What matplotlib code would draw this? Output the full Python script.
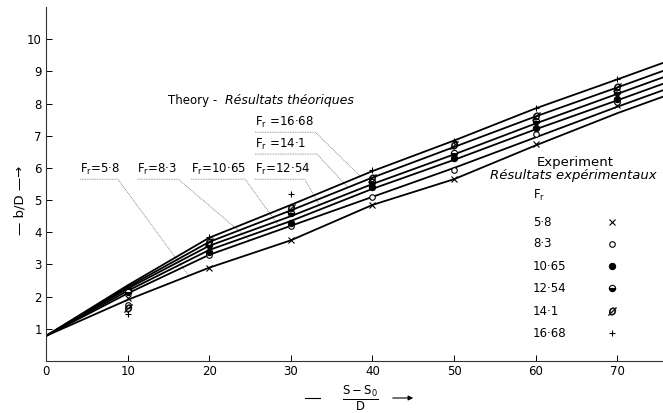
import numpy as np
import matplotlib
matplotlib.use("Agg")
import matplotlib.pyplot as plt
from matplotlib.lines import Line2D

plt.rcParams["font.family"] = ["DejaVu Sans"]

# ───────── data ─────────
froude = ["5·8", "8·3", "10·65", "12·54", "14·1", "16·68"]

# theory curves (b/D against (S-S0)/D)
x_curve = [0, 10, 20, 30, 40, 50, 60, 70, 76]
theory_5_8 = [0.78, 1.90, 2.90, 3.75, 4.85, 5.65, 6.70, 7.70, 8.25]
theory_8_3 = [0.78, 2.10, 3.30, 4.20, 5.10, 6.00, 6.95, 7.90, 8.45]
theory_10_65 = [0.78, 2.18, 3.45, 4.35, 5.35, 6.25, 7.20, 8.10, 8.65]
theory_12_54 = [0.78, 2.25, 3.58, 4.50, 5.50, 6.42, 7.38, 8.30, 8.85]
theory_14_1 = [0.78, 2.30, 3.70, 4.68, 5.70, 6.65, 7.60, 8.50, 9.05]
theory_16_68 = [0.78, 2.35, 3.83, 4.85, 5.90, 6.85, 7.85, 8.75, 9.30]

# experimental points
x_exp = [10, 20, 30, 40, 50, 60, 70]
exp_5_8 = [1.95, 2.90, 3.75, 4.85, 5.65, 6.75, 7.95]
exp_8_3 = [1.75, 3.30, 4.20, 5.10, 5.95, 7.05, 8.05]
exp_10_65 = [2.25, 3.40, 4.30, 5.40, 6.30, 7.25, 8.15]
exp_12_54 = [2.15, 3.60, 4.60, 5.55, 6.45, 7.45, 8.35]
exp_14_1 = [1.65, 3.70, 4.75, 5.70, 6.70, 7.60, 8.50]
exp_16_68 = [1.45, 3.85, 5.20, 5.95, 6.85, 7.85, 8.75]

theory = [theory_5_8, theory_8_3, theory_10_65, theory_12_54, theory_14_1, theory_16_68]
experiment = [exp_5_8, exp_8_3, exp_10_65, exp_12_54, exp_14_1, exp_16_68]

# marker style per Froude number
markers = [
    dict(marker="x", ms=4, mew=0.8, color="black", mfc="black"),
    dict(marker="o", ms=4, mew=0.8, color="black", mfc="white"),
    dict(marker="o", ms=4.5, mew=0.8, color="black", mfc="black"),
    dict(marker="o", ms=4.5, mew=0.8, color="black", mfc="black", fillstyle="bottom", mfcalt="white"),
    dict(marker="$ø$", ms=6, mew=0.3, color="black"),
    dict(marker="+", ms=5, mew=0.8, color="black"),
]

# label placement for the theory curves: text pos, underline end, where the leader hits the curve
label_pos = [(4.2, 5.95), (11.2, 5.95), (17.8, 5.95), (25.6, 5.95), (25.6, 6.73), (25.6, 7.41)]
underline_end = [8.8, 16.2, 24.4, 31.7, 33.2, 33.0]
leader_x = [17.5, 25.0, 28.5, 33.5, 37.0, 38.5]

FS = 8.5

fig = plt.figure(figsize=(6.63, 4.13), dpi=100)
ax = fig.add_axes([46 / 663, 52 / 413, 617 / 663, 354 / 413])

# theory curves
for ys in theory:
    ax.plot(x_curve, ys, color="black", lw=1.3, solid_capstyle="round", zorder=2)

# experimental points
for ys, mk in zip(experiment, markers):
    ax.plot(x_exp, ys, ls="none", zorder=3, **mk)

# curve labels with dotted leader lines
for i, (name, (tx, ty), ux, lx, ys) in enumerate(zip(froude, label_pos, underline_end, leader_x, theory)):
    sep = " =" if i >= 4 else "="
    ax.text(tx, ty, "F$_\\mathregular{r}$" + sep + name, fontsize=FS, ha="left", va="center")
    uy = ty - 0.3
    ly = np.interp(lx, x_curve, ys)
    ax.plot([tx, ux, lx], [uy, uy, ly], color="#777777", lw=0.6, ls=(0, (1, 1)), zorder=1)

ax.text(15.0, 8.1, "Theory - ", fontsize=FS, ha="left", va="center")
ax.text(21.9, 8.1, "Résultats théoriques", fontsize=FS + 0.5, style="italic", ha="left", va="center")

# experiment key
ax.text(0.857, 0.562, "Experiment", transform=ax.transAxes, fontsize=9.5, ha="center", va="center")
ax.text(0.855, 0.523, "Résultats expérimentaux", transform=ax.transAxes, fontsize=9.5,
        style="italic", ha="center", va="center")
ax.text(0.789, 0.469, "F$_\\mathregular{r}$", transform=ax.transAxes, fontsize=FS, ha="left", va="center")
row_y = [0.392, 0.331, 0.268, 0.206, 0.141, 0.079]
for name, yy, mk in zip(froude, row_y, markers):
    ax.text(0.789, yy, name, transform=ax.transAxes, fontsize=FS, ha="left", va="center")
    ax.plot([0.917], [yy], transform=ax.transAxes, ls="none", clip_on=False, **mk)

# axes styling
ax.set_xlim(0, 75.6)
ax.set_ylim(0, 11)
ax.set_xticks(range(0, 80, 10))
ax.set_yticks(range(1, 11))
ax.tick_params(direction="in", length=4, width=0.7, labelsize=8.5, pad=3)
ax.spines["top"].set_visible(False)
ax.spines["right"].set_visible(False)
for s in ("left", "bottom"):
    ax.spines[s].set_linewidth(0.8)
    ax.spines[s].set_color("#333333")

# y label with arrow
fig.text(20 / 663, 1 - 200 / 413, "— b/D —→", rotation=90, fontsize=9.5, ha="center", va="center")

# x label: fraction with dash and arrow
fig.text(360 / 663, 1 - 398 / 413, r"$\frac{\mathregular{S - S_0}}{\mathregular{D}}$", fontsize=12,
         ha="center", va="center")
fig.add_artist(Line2D([305 / 663, 320 / 663], [1 - 398 / 413] * 2, color="black", lw=0.8))
ax.annotate("", xy=(416 / 663, 1 - 398 / 413), xytext=(390 / 663, 1 - 398 / 413),
            xycoords="figure fraction", textcoords="figure fraction",
            arrowprops=dict(arrowstyle="-|>", color="black", lw=0.8, mutation_scale=7))

fig.savefig("out.png", dpi=100)
